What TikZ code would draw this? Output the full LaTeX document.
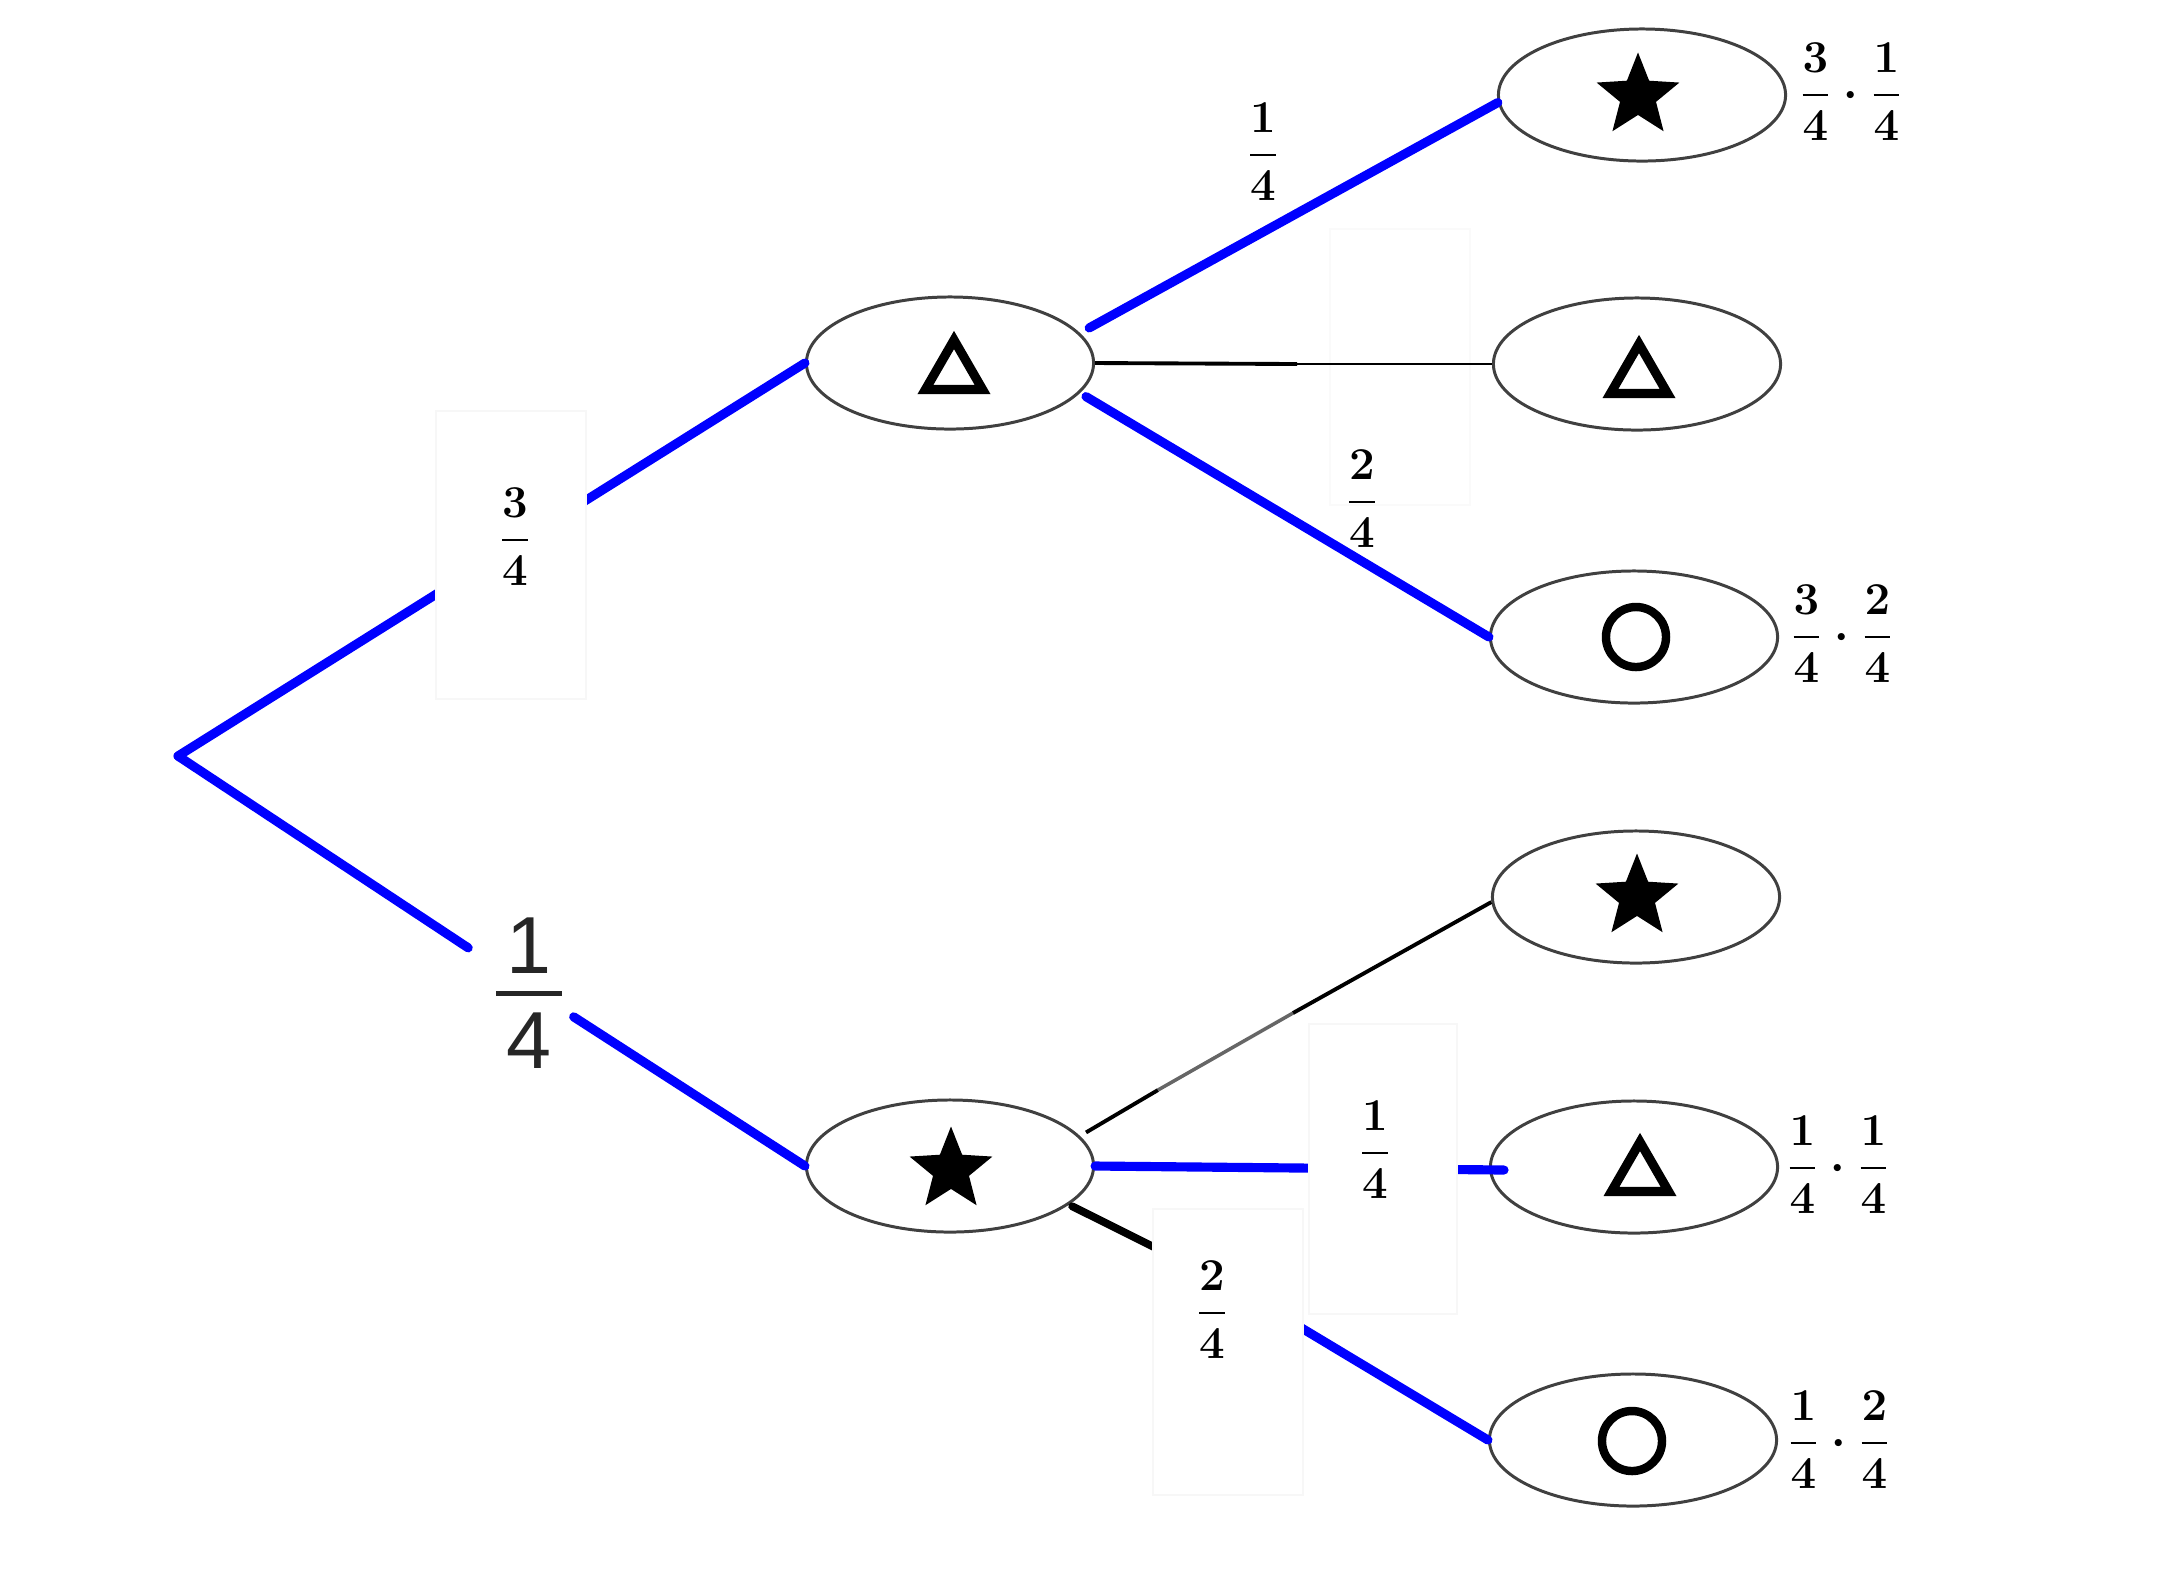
\documentclass[tikz,border=0pt]{standalone}
\usepackage{amsmath}
\usepackage[no-math]{fontspec}
\usetikzlibrary{shapes.geometric}
\newfontfamily\sansdigits{Liberation Sans}
\newcommand{\frc}[2]{{\fontsize{14.4}{17}\selectfont\boldmath$\displaystyle\frac{#1}{#2}$}}
\newcommand{\frcprod}[4]{{\fontsize{14.4}{17}\selectfont\boldmath$\displaystyle\frac{#1}{#2}\cdot\frac{#3}{#4}$}}
\tikzset{
  outcome/.style={draw=black!75, line width=0.85pt, ellipse, minimum width=2.87cm, minimum height=1.32cm, inner sep=0pt},
  starmark/.style={star, star points=5, star point ratio=2.3, fill=black, minimum size=0.87cm, inner sep=0pt},
  trimark/.style={regular polygon, regular polygon sides=3, draw=black, line width=2.6pt, minimum size=0.66cm, inner sep=0pt},
  ringmark/.style={circle, draw=black, line width=2.4pt, minimum size=0.6cm, inner sep=0pt},
  chosen/.style={draw=blue, line width=2.6pt, line cap=round},
  plain/.style={draw=black, line width=1.1pt},
  patch/.style={draw=black!3, fill=white, minimum width=1.48cm, inner sep=0pt},
  fraclabel/.style={scale=0.9},
}
\begin{document}
\begin{tikzpicture}[x=0.01cm, y=-0.01cm]
  \useasboundingbox (0,0) rectangle (2172,1568);
  % ellipses
  \coordinate (root) at (178,756);
  \node[outcome] (a) at (950,363) {};
  \node[outcome] (b) at (950,1166) {};
  \node[outcome] (s1) at (1642,95) {};
  \node[outcome] (t1) at (1637,364) {};
  \node[outcome] (c1) at (1634,637) {};
  \node[outcome] (s2) at (1636,897) {};
  \node[outcome] (t2) at (1634,1167) {};
  \node[outcome] (c2) at (1633,1440) {};
  % marks
  \node[trimark] (ta) at (954,373) {};
  \node[starmark] (sb) at (951,1170) {};
  \node[starmark] (s1m) at (1638,96) {};
  \node[trimark] (t1m) at (1639,377) {};
  \node[ringmark] (c1m) at (1636,637) {};
  \node[starmark] (s2m) at (1637,897) {};
  \node[trimark] (t2m) at (1640,1175) {};
  \node[ringmark] (c2m) at (1632,1441) {};
  % big fraction on the lower branch
  \node[inner sep=1pt, outer sep=0pt, text=black!85] (low) at (529,988)
    {\fontsize{23}{27}\selectfont\sansdigits$\displaystyle\genfrac{}{}{1.3pt}{}{\makebox[18.5pt]{\raisebox{-5pt}[\height][0pt]{1}}}{\makebox[18.5pt]{\raisebox{2pt}[\height][0pt]{4}}}$};
  \node[patch, draw=black!2, fill=none, minimum width=1.4cm, minimum height=2.76cm] (p2) at (1400,367) {};
  % branches
  \coordinate (a2) at (1297,364);
  \coordinate (g1) at (1158,1090);
  \coordinate (g2) at (1293,1013);
  \coordinate (b3) at (1230,1285);
  \coordinate (t2in) at (1504,1170);
  \draw[chosen] (root) -- (a.west);
  \draw[chosen, shorten >=7pt] (root) -- (low);
  \draw[chosen, shorten <=1.5pt] (low) -- (b.west);
  \draw[chosen, shorten <=3pt] (a.13) -- (s1.183);
  \draw[chosen, shorten <=2pt] (a.-13) -- (c1.west);
  \draw[plain] (a.east) -- (a2);
  \draw[draw=black, line width=0.7pt] (a2) -- (t1.west);
  \draw[plain, shorten <=2pt] (b.13) -- (g1);
  \draw[draw=black!60, line width=1pt] (g1) -- (g2);
  \draw[plain] (g2) -- (s2.182);
  \draw[chosen] (b.east) -- (t2in);
  \draw[draw=black, line width=2.2pt, line cap=round, shorten <=1pt] (b.-18) -- (b3);
  \draw[chosen] (b3) -- (c2.west);
  % patches over the branches
  \node[patch, minimum width=1.5cm, minimum height=2.88cm] (p1) at (511,555) {};
  \node[patch, minimum height=2.9cm] (p3) at (1383,1169) {};
  \node[patch, minimum width=1.5cm, minimum height=2.86cm] (p4) at (1228,1352) {};
  % fractions
  \node[fraclabel] (l1) at (515,537) {\frc{3}{4}};
  \node[fraclabel] (l2) at (1263,152) {\frc{1}{4}};
  \node[fraclabel] (l3) at (1362,499) {\frc{2}{4}};
  \node[fraclabel] (l4) at (1375,1150) {\frc{1}{4}};
  \node[fraclabel] (l5) at (1212,1310) {\frc{2}{4}};
  \node[fraclabel] (r1) at (1851,92) {\frcprod{3}{4}{1}{4}};
  \node[fraclabel] (r2) at (1842,634) {\frcprod{3}{4}{2}{4}};
  \node[fraclabel] (r3) at (1838,1165) {\frcprod{1}{4}{1}{4}};
  \node[fraclabel] (r4) at (1839,1440) {\frcprod{1}{4}{2}{4}};
\end{tikzpicture}
\end{document}
